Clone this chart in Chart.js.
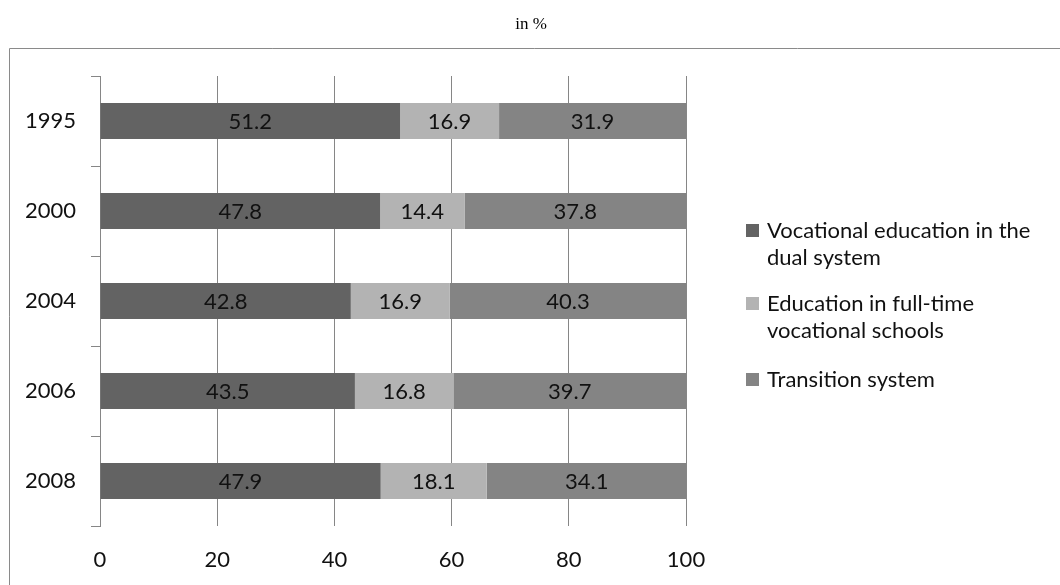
<!DOCTYPE html>
<html>
<head>
<meta charset="utf-8">
<script src="https://cdn.jsdelivr.net/npm/chart.js@4/dist/chart.umd.min.js"></script>
<style>
  html, body { margin: 0; padding: 0; background: #fff; }
  #wrap { position: relative; width: 1060px; height: 585px; }
</style>
</head>
<body>
<div id="wrap"><canvas id="c" width="1060" height="585"></canvas></div>
<script>
// Years of entry and share of new entrants per sector (in %)
const years = ['1995', '2000', '2004', '2006', '2008'];
const dualSystem = [51.2, 47.8, 42.8, 43.5, 47.9];
const fullTimeSchools = [16.9, 14.4, 16.9, 16.8, 18.1];
const transitionSystem = [31.9, 37.8, 40.3, 39.7, 34.1];
const seriesNames = [
  ['Vocational education in the', 'dual system'],
  ['Education in full-time', 'vocational schools'],
  ['Transition system']
];
const xTicks = [0, 20, 40, 60, 80, 100];

const FONT = 'Lato, "Open Sans", sans-serif';
const FONT_SIZE = 22;
const GRID = '#868686';

// Frame, title, value labels and the wrapped legend
const decorations = {
  id: 'decorations',
  beforeDraw(chart) {
    const ctx = chart.ctx;
    ctx.save();
    ctx.fillStyle = '#fff';
    ctx.fillRect(0, 0, chart.width, chart.height);
    ctx.strokeStyle = '#8a8a8a';
    ctx.lineWidth = 1;
    ctx.beginPath();
    ctx.moveTo(9.5, chart.height);
    ctx.lineTo(9.5, 48.5);
    ctx.lineTo(chart.width, 48.5);
    ctx.stroke();
    ctx.fillStyle = '#000';
    ctx.font = '17px "Liberation Serif", "Times New Roman", serif';
    ctx.textAlign = 'center';
    ctx.textBaseline = 'middle';
    ctx.fillText('in %', 531, 25);
    ctx.restore();
  },
  afterDatasetsDraw(chart) {
    const ctx = chart.ctx;
    ctx.save();
    ctx.font = FONT_SIZE + 'px ' + FONT;
    ctx.fillStyle = '#111';
    ctx.textAlign = 'center';
    ctx.textBaseline = 'middle';
    chart.data.datasets.forEach((ds, i) => {
      chart.getDatasetMeta(i).data.forEach((bar, j) => {
        const p = bar.getCenterPoint();
        ctx.fillText(ds.data[j].toFixed(1), p.x, p.y + 1);
      });
    });
    // legend
    const starts = [231, 304, 380];
    ctx.textAlign = 'left';
    chart.data.datasets.forEach((ds, i) => {
      const y0 = starts[i];
      ctx.fillStyle = ds.backgroundColor;
      ctx.fillRect(746, y0 - 7, 13, 13);
      ctx.fillStyle = '#111';
      ds.legendLines.forEach((line, k) => {
        ctx.fillText(line, 767, y0 + k * 27);
      });
    });
    ctx.restore();
  }
};

new Chart(document.getElementById('c'), {
  type: 'bar',
  data: {
    labels: years,
    datasets: [
      { label: seriesNames[0].join(' '), legendLines: seriesNames[0], data: dualSystem, backgroundColor: '#636363' },
      { label: seriesNames[1].join(' '), legendLines: seriesNames[1], data: fullTimeSchools, backgroundColor: '#b3b3b3' },
      { label: seriesNames[2].join(' '), legendLines: seriesNames[2], data: transitionSystem, backgroundColor: '#848484' }
    ]
  },
  options: {
    indexAxis: 'y',
    responsive: false,
    animation: false,
    devicePixelRatio: 1,
    layout: { padding: { left: 10, top: 76, right: 374, bottom: 0 } },
    datasets: { bar: { categoryPercentage: 1, barPercentage: 0.4, borderWidth: 0 } },
    plugins: { legend: { display: false }, tooltip: { enabled: false }, title: { display: false } },
    scales: {
      x: {
        stacked: true,
        min: 0,
        max: 100,
        afterBuildTicks(scale) { scale.ticks = xTicks.map(v => ({ value: v })); },
        afterFit(scale) { scale.height = 59; },
        grid: { color: GRID, lineWidth: 1, drawTicks: false },
        border: { display: false },
        ticks: { color: '#111', font: { family: FONT, size: FONT_SIZE }, padding: 21 }
      },
      y: {
        stacked: true,
        afterFit(scale) { scale.width = 90; },
        grid: { offset: true, drawOnChartArea: false, color: GRID, tickLength: 9, lineWidth: 1 },
        border: { display: true, color: GRID, width: 1 },
        ticks: { color: '#111', font: { family: FONT, size: FONT_SIZE }, padding: 15 }
      }
    }
  },
  plugins: [decorations]
});
</script>
</body>
</html>
